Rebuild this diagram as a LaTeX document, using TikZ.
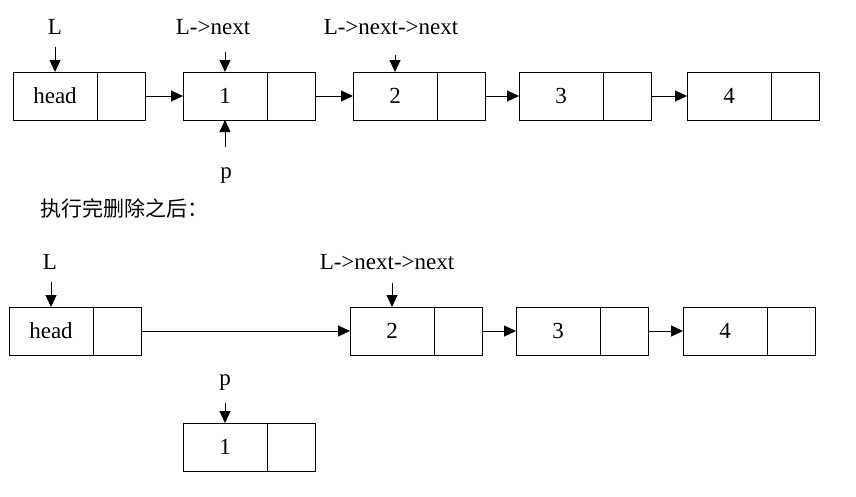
\documentclass[tikz,border=0pt]{standalone}
\usepackage{fontspec}
\setmainfont{Liberation Serif}
\newfontfamily\cjk{Noto Sans CJK SC}
\usetikzlibrary{arrows.meta,positioning}

\begin{document}
\begin{tikzpicture}[x=1pt, y=-1pt, font=\fontsize{23}{27}\selectfont, line width=1pt, >={Triangle[length=12pt,width=11pt]}]
\tikzstyle{datacell}=[draw, minimum width=84pt, minimum height=48pt, inner sep=0pt, outer sep=0pt]
\tikzstyle{ptrcell}=[draw, minimum width=48pt, minimum height=48pt, inner sep=0pt, outer sep=0pt]
\tikzstyle{lbl}=[anchor=base, inner sep=0pt]
\useasboundingbox (0,0) rectangle (856,496);
\node[datacell] (head) at (55,96) {head};
\node[ptrcell, right=0pt of head] (headp) {};
\node[datacell] (n1) at (225,96) {1};
\node[ptrcell, right=0pt of n1] (n1p) {};
\node[datacell] (n2) at (395,96) {2};
\node[ptrcell, right=0pt of n2] (n2p) {};
\node[datacell] (n3) at (561,96) {3};
\node[ptrcell, right=0pt of n3] (n3p) {};
\node[datacell] (n4) at (729,96) {4};
\node[ptrcell, right=0pt of n4] (n4p) {};
\draw[->] (headp) -- (n1);
\draw[->] (n1p) -- (n2);
\draw[->] (n2p) -- (n3);
\draw[->] (n3p) -- (n4);
\node[lbl] (lblL) at (55,34) {L};
\node[lbl] (lblnext) at (213,34) {L->next};
\node[lbl] (lblnn) at (391,34) {L->next->next};
\node[lbl] (lblp) at (226,178) {p};
\draw[->] ([yshift=25pt]head.north) -- (head.north);
\draw[->] ([yshift=20pt]n1.north) -- (n1.north);
\draw[->] ([yshift=17pt]n2.north) -- (n2.north);
\draw[->] ([yshift=-27pt]n1.south) -- (n1.south);
\node[anchor=west, inner sep=0pt, font=\cjk\fontsize{21}{25}\selectfont] (note) at (40,208) {执行完删除之后：};
\node[datacell] (headb) at (51,331) {head};
\node[ptrcell, right=0pt of headb] (headbp) {};
\node[datacell] (m2) at (392,331) {2};
\node[ptrcell, right=0pt of m2] (m2p) {};
\node[datacell] (m3) at (558,331) {3};
\node[ptrcell, right=0pt of m3] (m3p) {};
\node[datacell] (m4) at (725,331) {4};
\node[ptrcell, right=0pt of m4] (m4p) {};
\node[datacell] (m1) at (225,447) {1};
\node[ptrcell, right=0pt of m1] (m1p) {};
\draw[->] (headbp) -- (m2);
\draw[->] (m2p) -- (m3);
\draw[->] (m3p) -- (m4);
\node[lbl] (lblLb) at (50,269) {L};
\node[lbl] (lblnnb) at (387,269) {L->next->next};
\node[lbl] (lblpb) at (225,385) {p};
\draw[->] ([yshift=25pt]headb.north) -- (headb.north);
\draw[->] ([yshift=24pt]m2.north) -- (m2.north);
\draw[->] ([yshift=20pt]m1.north) -- (m1.north);
\end{tikzpicture}
\end{document}
